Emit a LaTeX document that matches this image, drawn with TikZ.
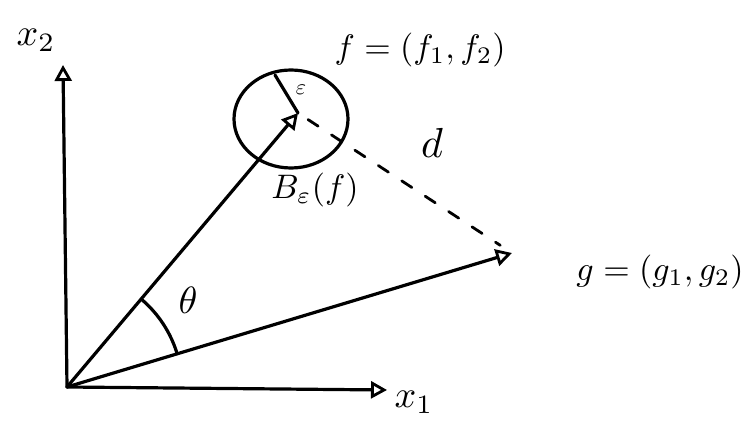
\documentclass[tikz,border=0pt]{standalone}
\usetikzlibrary{arrows.meta}
\begin{document}
\begin{tikzpicture}[x=1pt,y=-1pt,line width=3.2pt,line cap=round,line join=round,
  vec/.style={-{Triangle[open,length=16pt,width=17pt,line width=2.8pt]}},
  big/.style={scale=3.4},
  mid/.style={scale=3.8},
  small/.style={scale=2.2}]
\useasboundingbox (0,0) rectangle (748,430);
\coordinate (O) at (67,387);
\coordinate (X1) at (387,390);
\coordinate (X2) at (63,65);
\coordinate (F) at (298,113);
\coordinate (G) at (512,253);
\coordinate (C) at (291,119);
\coordinate (R) at (275,75);
\coordinate (A1) at (141.1,299.0);
% axes
\draw[vec] (O) -- (X1);
\draw[vec] (O) -- (X2);
% vectors
\draw[vec] (O) -- (F);
\draw[vec] (O) -- (G);
% ball
\draw (C) ellipse [x radius=57pt, y radius=49pt];
\draw (F) -- (R);
% distance
\draw[line width=2.8pt,dash pattern=on 12pt off 16pt,shorten <=12pt,shorten >=14pt] (F) -- (G);
% angle
\draw (A1) arc[start angle=49.9, end angle=16.8, radius=115pt];
% labels
\node[mid] (lx2) at (36,40) {$x_2$};
\node[mid] (lx1) at (414,402) {$x_1$};
\node[big] (lf) at (420,50) {$f=(f_1,f_2)$};
\node[small] (le) at (301,90) {$\varepsilon$};
\node[scale=4.2] (ld) at (432,143) {$d$};
\node[scale=3.4] (lb) at (315,190) {$B_\varepsilon(f)$};
\node[mid] (lt) at (188,300) {$\theta$};
\node[big] (lg) at (660,272) {$g=(g_1,g_2)$};
\end{tikzpicture}
\end{document}
